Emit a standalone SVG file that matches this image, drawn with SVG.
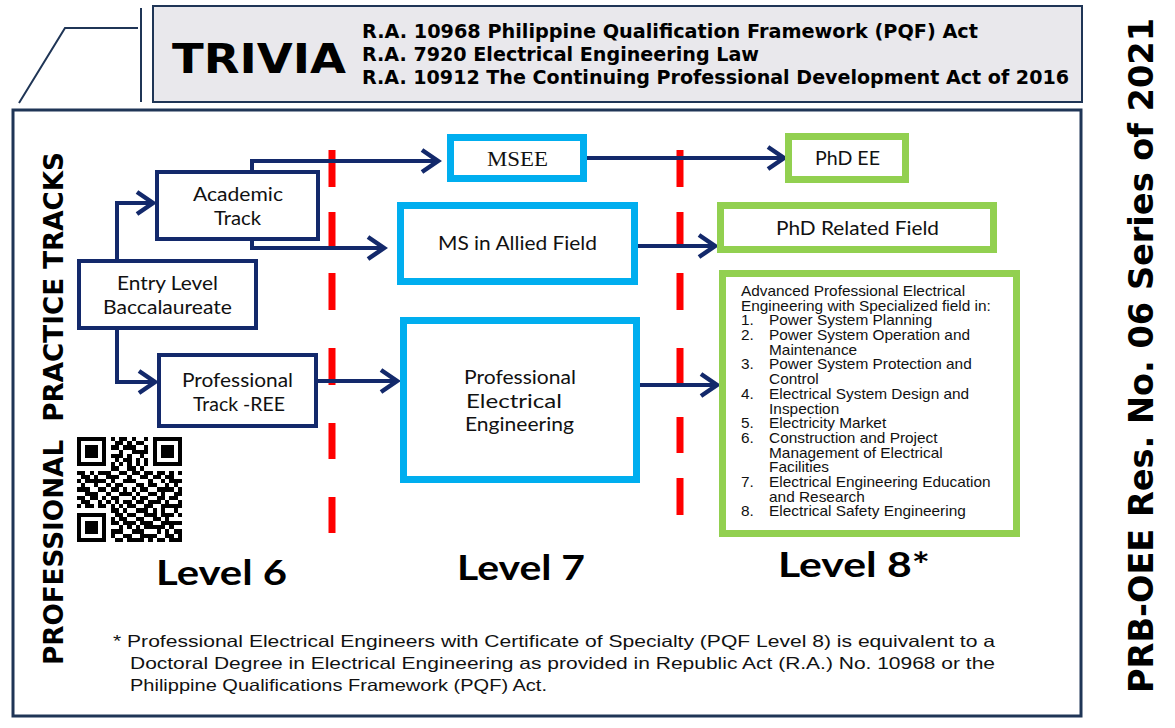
<svg xmlns="http://www.w3.org/2000/svg" width="1175" height="728" viewBox="0 0 1175 728">
<style>
.hdr{font-family:"DejaVu Sans","Liberation Sans",sans-serif;font-weight:bold;fill:#000}
.lbl{font-family:Lato,"Open Sans","Liberation Sans",sans-serif;font-size:18.5px;fill:#111;text-anchor:middle}
.lvl{font-family:Lato,"Open Sans","Liberation Sans",sans-serif;font-size:35px;font-weight:bold;fill:#000}
.ar{font-family:"Liberation Sans",Arial,sans-serif;font-size:14px;fill:#111}
.fn{font-family:"Liberation Sans",Arial,sans-serif;font-size:16.5px;fill:#111}
.navy{fill:#fff;stroke:#13296b;stroke-width:4}
.cyan{fill:#fff;stroke:#00aeef;stroke-width:7}
.green{fill:#fff;stroke:#92d050;stroke-width:7}
.conn{fill:none;stroke:#13296b;stroke-width:4;marker-end:url(#arr)}
.red{stroke:#ff0000;stroke-width:7;fill:none}
</style>
<defs>
<marker id="arr" markerUnits="userSpaceOnUse" markerWidth="30" markerHeight="30" viewBox="-20 -15 24 30" refX="0" refY="0" orient="auto">
<path d="M-16,-11 L0,0 L-16,11" fill="none" stroke="#13296b" stroke-width="4.5" stroke-linejoin="miter"/>
</marker>
</defs>
<rect width="1175" height="728" fill="#fff"/>
<g id="header">
<path d="M19,103 L65,28 L138,28" fill="none" stroke="#1f3556" stroke-width="2"/>
<line x1="141" y1="8" x2="141" y2="102" stroke="#1f3556" stroke-width="2"/>
<rect x="153" y="6" width="929" height="96" fill="#e9e8ec" stroke="#1f3556" stroke-width="2"/>
<text class="hdr" x="172" y="73" font-size="40" textLength="174" lengthAdjust="spacingAndGlyphs">TRIVIA</text>
<text class="hdr" x="362" y="38" font-size="19" textLength="616" lengthAdjust="spacingAndGlyphs">R.A. 10968 Philippine Qualification Framework (PQF) Act</text>
<text class="hdr" x="362" y="61" font-size="19" textLength="397" lengthAdjust="spacingAndGlyphs">R.A. 7920 Electrical Engineering Law</text>
<text class="hdr" x="362" y="84" font-size="19" textLength="707" lengthAdjust="spacingAndGlyphs">R.A. 10912 The Continuing Professional Development Act of 2016</text>
</g>
<g id="side-title">
<text class="hdr" font-size="34" text-anchor="middle" transform="translate(1153,355.5) rotate(-90)" textLength="675" lengthAdjust="spacingAndGlyphs">PRB-OEE Res. No. 06 Series of 2021</text>
</g>
<rect id="frame" x="13" y="110" width="1068" height="606" fill="none" stroke="#1f3556" stroke-width="3"/>
<g id="tracks-title">
<text class="hdr" font-size="27" text-anchor="middle" transform="translate(63,408.5) rotate(-90)" textLength="513" lengthAdjust="spacingAndGlyphs">PROFESSIONAL&#160; PRACTICE TRACKS</text>
</g>
<g id="dividers">
<path class="red" d="M332,150V187M332,212V248M332,273V310M332,348V385M332,423V459M332,497V533"/>
<path class="red" d="M680,150V187M680,212V248M680,273V310M680,348V385M680,417V453M680,478V515"/>
</g>
<g id="connectors">
<path class="conn" d="M117,259 V203 H153"/>
<path class="conn" d="M117,330 V382 H155"/>
<path class="conn" d="M252,190 V161 H438"/>
<path class="conn" d="M252,226 V248 H384"/>
<path class="conn" d="M318,381 H397"/>
<path class="conn" d="M587,158 H784"/>
<path class="conn" d="M638,246 H715"/>
<path class="conn" d="M640,385 H717"/>
</g>
<g id="academic">
<rect class="navy" x="157" y="172" width="161" height="67"/>
<text class="lbl" x="238" y="201" textLength="90" lengthAdjust="spacingAndGlyphs">Academic</text>
<text class="lbl" x="237.5" y="225" textLength="47" lengthAdjust="spacingAndGlyphs">Track</text>
</g>
<g id="entry">
<rect class="navy" x="79" y="261" width="177" height="67"/>
<text class="lbl" x="167.5" y="290" textLength="101" lengthAdjust="spacingAndGlyphs">Entry Level</text>
<text class="lbl" x="167.5" y="314" textLength="129" lengthAdjust="spacingAndGlyphs">Baccalaureate</text>
</g>
<g id="prof-track">
<rect class="navy" x="159" y="355" width="157" height="71"/>
<text class="lbl" x="237.5" y="387" textLength="111" lengthAdjust="spacingAndGlyphs">Professional</text>
<text class="lbl" x="239" y="411" textLength="92" lengthAdjust="spacingAndGlyphs">Track -REE</text>
</g>
<g id="msee">
<rect class="cyan" x="450.5" y="137.5" width="133" height="41"/>
<text x="517.5" y="166" font-family="'Liberation Serif','Times New Roman',serif" font-size="20" text-anchor="middle" fill="#111" textLength="61" lengthAdjust="spacingAndGlyphs">MSEE</text>
</g>
<g id="ms-allied">
<rect class="cyan" x="400.5" y="205.5" width="234" height="76"/>
<text class="lbl" x="517.5" y="250" textLength="159" lengthAdjust="spacingAndGlyphs">MS in Allied Field</text>
</g>
<g id="prof-ee">
<rect class="cyan" x="403.5" y="320.5" width="233" height="159"/>
<text class="lbl" x="520" y="384" textLength="112" lengthAdjust="spacingAndGlyphs">Professional</text>
<text class="lbl" x="514" y="408" textLength="96" lengthAdjust="spacingAndGlyphs">Electrical</text>
<text class="lbl" x="519.5" y="431" textLength="109" lengthAdjust="spacingAndGlyphs">Engineering</text>
</g>
<g id="phd-ee">
<rect class="green" x="788.5" y="136.5" width="117" height="43"/>
<text class="lbl" x="847.5" y="165" textLength="65" lengthAdjust="spacingAndGlyphs">PhD EE</text>
</g>
<g id="phd-related">
<rect class="green" x="720.5" y="205.5" width="273" height="44"/>
<text class="lbl" x="857.5" y="235" textLength="163" lengthAdjust="spacingAndGlyphs">PhD Related Field</text>
</g>
<g id="advanced">
<rect class="green" x="722.5" y="273.5" width="294" height="260"/>
<g transform="translate(741,0) scale(1.1,1) translate(-741,0)">
<text class="ar" x="741" y="296">Advanced Professional Electrical</text>
<text class="ar" x="741" y="310.7">Engineering with Specialized field in:</text>
<text class="ar" x="741" y="325.4">1.</text><text class="ar" x="766.5" y="325.4">Power System Planning</text>
<text class="ar" x="741" y="340.1">2.</text><text class="ar" x="766.5" y="340.1">Power System Operation and</text>
<text class="ar" x="766.5" y="354.8">Maintenance</text>
<text class="ar" x="741" y="369.5">3.</text><text class="ar" x="766.5" y="369.5">Power System Protection and</text>
<text class="ar" x="766.5" y="384.2">Control</text>
<text class="ar" x="741" y="398.9">4.</text><text class="ar" x="766.5" y="398.9">Electrical System Design and</text>
<text class="ar" x="766.5" y="413.6">Inspection</text>
<text class="ar" x="741" y="428.3">5.</text><text class="ar" x="766.5" y="428.3">Electricity Market</text>
<text class="ar" x="741" y="443">6.</text><text class="ar" x="766.5" y="443">Construction and Project</text>
<text class="ar" x="766.5" y="457.7">Management of Electrical</text>
<text class="ar" x="766.5" y="472.4">Facilities</text>
<text class="ar" x="741" y="487.1">7.</text><text class="ar" x="766.5" y="487.1">Electrical Engineering Education</text>
<text class="ar" x="766.5" y="501.8">and Research</text>
<text class="ar" x="741" y="516.5">8.</text><text class="ar" x="766.5" y="516.5">Electrical Safety Engineering</text>
</g>
</g>
<g id="qr" transform="translate(77,437) scale(4.2)" shape-rendering="crispEdges">
<g fill="none" stroke="#000" stroke-width="1">
<rect x="0.5" y="0.5" width="6" height="6"/>
<rect x="18.5" y="0.5" width="6" height="6"/>
<rect x="0.5" y="18.5" width="6" height="6"/>
</g>
<g fill="#000">
<rect x="2" y="2" width="3" height="3"/>
<rect x="20" y="2" width="3" height="3"/>
<rect x="2" y="20" width="3" height="3"/>
</g>
<path fill="none" stroke="#000" stroke-width="1" d="M8,0.5h1M10,0.5h2M13,0.5h1M16,0.5h1
M9,1.5h2M12,1.5h1M14,1.5h2
M8,2.5h2M11,2.5h3M16,2.5h1
M10,3.5h1M13,3.5h4
M8,4.5h3M12,4.5h1M15,4.5h1
M9,5.5h1M11,5.5h2M14,5.5h1M16,5.5h1
M8,6.5h1M10,6.5h1M12,6.5h1M14,6.5h1M16,6.5h1
M8,7.5h2M12,7.5h2M15,7.5h1
M0,8.5h2M3,8.5h1M5,8.5h3M10,8.5h2M13,8.5h2M16,8.5h2M19,8.5h2M22,8.5h1M24,8.5h1
M1,9.5h2M4,9.5h1M7,9.5h3M12,9.5h1M15,9.5h2M18,9.5h2M21,9.5h2
M0,10.5h1M2,10.5h5M8,10.5h1M11,10.5h3M17,10.5h1M20,10.5h1M22,10.5h3
M1,11.5h1M4,11.5h1M7,11.5h1M9,11.5h2M14,11.5h2M17,11.5h2M21,11.5h1M23,11.5h1
M0,12.5h3M5,12.5h2M8,12.5h2M11,12.5h1M13,12.5h1M15,12.5h2M19,12.5h4M24,12.5h1
M2,13.5h3M7,13.5h1M10,13.5h3M14,13.5h1M17,13.5h2M20,13.5h1M23,13.5h2
M0,14.5h2M3,14.5h2M6,14.5h1M8,14.5h2M13,14.5h1M15,14.5h2M19,14.5h2M22,14.5h2
M1,15.5h2M5,15.5h1M7,15.5h1M9,15.5h1M11,15.5h2M14,15.5h2M17,15.5h3M21,15.5h1M24,15.5h1
M0,16.5h1M2,16.5h2M5,16.5h2M8,16.5h1M10,16.5h1M12,16.5h2M16,16.5h2M20,16.5h5
M8,17.5h2M11,17.5h1M14,17.5h3M18,17.5h1M20,17.5h1M23,17.5h1
M9,18.5h2M12,18.5h2M16,18.5h3M20,18.5h3M24,18.5h1
M8,19.5h1M10,19.5h2M14,19.5h2M18,19.5h2M21,19.5h1
M8,20.5h2M11,20.5h3M15,20.5h3M20,20.5h5
M10,21.5h1M12,21.5h1M14,21.5h1M16,21.5h5M22,21.5h1
M8,22.5h3M13,22.5h3M19,22.5h1M21,22.5h1M23,22.5h2
M8,23.5h1M11,23.5h2M15,23.5h4M21,23.5h2M24,23.5h1
M9,24.5h2M12,24.5h4M17,24.5h1M19,24.5h2M22,24.5h3"/>
</g>
<g id="levels">
<text class="lvl" x="156" y="585" textLength="131" lengthAdjust="spacingAndGlyphs">Level 6</text>
<text class="lvl" x="457" y="580" textLength="128" lengthAdjust="spacingAndGlyphs">Level 7</text>
<text class="lvl" x="778" y="577" textLength="152" lengthAdjust="spacingAndGlyphs">Level 8*</text>
</g>
<g id="footnote">
<text class="fn" x="113" y="647" textLength="882" lengthAdjust="spacingAndGlyphs">* Professional Electrical Engineers with Certificate of Specialty (PQF Level 8) is equivalent to a</text>
<text class="fn" x="130" y="669" textLength="865" lengthAdjust="spacingAndGlyphs">Doctoral Degree in Electrical Engineering as provided in Republic Act (R.A.) No. 10968 or the</text>
<text class="fn" x="130" y="691" textLength="417" lengthAdjust="spacingAndGlyphs">Philippine Qualifications Framework (PQF) Act.</text>
</g>
</svg>
